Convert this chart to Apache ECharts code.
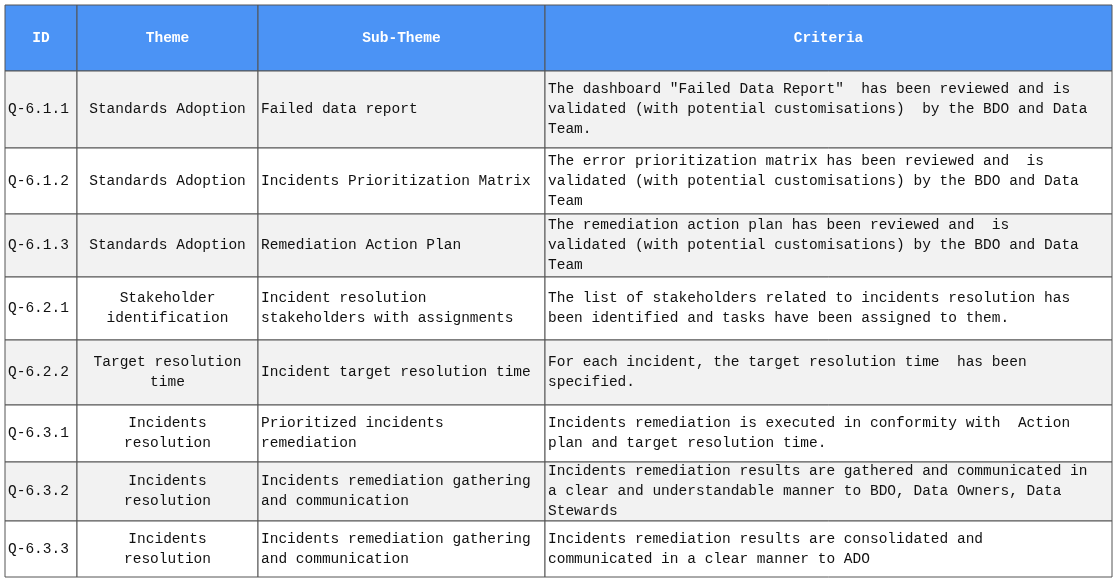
<!DOCTYPE html>
<html>
<head>
<meta charset="utf-8">
<script src="https://cdn.jsdelivr.net/npm/echarts@6/dist/echarts.min.js"></script>
<style>html,body{margin:0;padding:0;background:#fff}#main{width:1117px;height:581px}</style>
</head>
<body>
<div id="main"></div>
<script>
var headers = ['ID', 'Theme', 'Sub-Theme', 'Criteria'];
var ids = ['Q-6.1.1', 'Q-6.1.2', 'Q-6.1.3', 'Q-6.2.1', 'Q-6.2.2', 'Q-6.3.1', 'Q-6.3.2', 'Q-6.3.3'];
var themes = ['Standards Adoption', 'Standards Adoption', 'Standards Adoption', 'Stakeholder\nidentification',
  'Target resolution\ntime', 'Incidents\nresolution', 'Incidents\nresolution', 'Incidents\nresolution'];
var subThemes = ['Failed data report', 'Incidents Prioritization Matrix', 'Remediation Action Plan',
  'Incident resolution\nstakeholders with assignments', 'Incident target resolution time',
  'Prioritized incidents\nremediation', 'Incidents remediation gathering\nand communication',
  'Incidents remediation gathering\nand communication'];
var criteria = [
  'The dashboard "Failed Data Report"  has been reviewed and is\nvalidated (with potential customisations)  by the BDO and Data\nTeam.',
  'The error prioritization matrix has been reviewed and  is\nvalidated (with potential customisations) by the BDO and Data\nTeam',
  'The remediation action plan has been reviewed and  is\nvalidated (with potential customisations) by the BDO and Data\nTeam',
  'The list of stakeholders related to incidents resolution has\nbeen identified and tasks have been assigned to them.',
  'For each incident, the target resolution time  has been\nspecified.',
  'Incidents remediation is executed in conformity with  Action\nplan and target resolution time.',
  'Incidents remediation results are gathered and communicated in\na clear and understandable manner to BDO, Data Owners, Data\nStewards',
  'Incidents remediation results are consolidated and\ncommunicated in a clear manner to ADO'
];

// layout (pixel grid)
var colEdges = [5, 77, 258, 545, 1112];
var rowEdges = [5, 71, 148, 214, 277, 340, 405, 462, 521, 577];
var colAlign = ['left', 'center', 'left', 'left'];

var rows = [headers].concat(ids.map(function (id, i) {
  return [id, themes[i], subThemes[i], criteria[i]];
}));

var myChart = echarts.init(document.getElementById('main'));
var option = {
  animation: false,
  grid: { left: 0, right: 0, top: 0, bottom: 0 },
  xAxis: { type: 'value', min: 0, max: 1117, show: false },
  yAxis: { type: 'value', min: 0, max: 581, inverse: true, show: false },
  series: [{
    type: 'custom',
    coordinateSystem: 'cartesian2d',
    data: rows.map(function (r, i) { return [i]; }),
    renderItem: function (params, api) {
      var r = api.value(0);
      var isHead = r === 0;
      var fill = isHead ? '#4b93f5' : (r % 2 === 1 ? '#f2f2f2' : '#ffffff');
      var children = [];
      for (var c = 0; c < 4; c++) {
        var p0 = api.coord([colEdges[c], rowEdges[r]]);
        var p1 = api.coord([colEdges[c + 1], rowEdges[r + 1]]);
        var w = p1[0] - p0[0], h = p1[1] - p0[1];
        children.push({
          type: 'rect',
          shape: { x: p0[0], y: p0[1], width: w, height: h },
          style: { fill: fill, stroke: '#555', lineWidth: 1 }
        });
        var align = isHead ? 'center' : colAlign[c];
        var tx = align === 'center' ? p0[0] + w / 2 : p0[0] + 3;
        children.push({
          type: 'text',
          style: {
            text: rows[r][c],
            x: tx, y: p0[1] + h / 2,
            align: align, verticalAlign: 'middle',
            font: (isHead ? 'bold ' : '') + '14.5px "Liberation Mono", monospace',
            lineHeight: 20,
            fill: isHead ? '#ffffff' : '#111111'
          }
        });
      }
      return { type: 'group', children: children };
    }
  }]
};
myChart.setOption(option);
</script>
</body>
</html>
